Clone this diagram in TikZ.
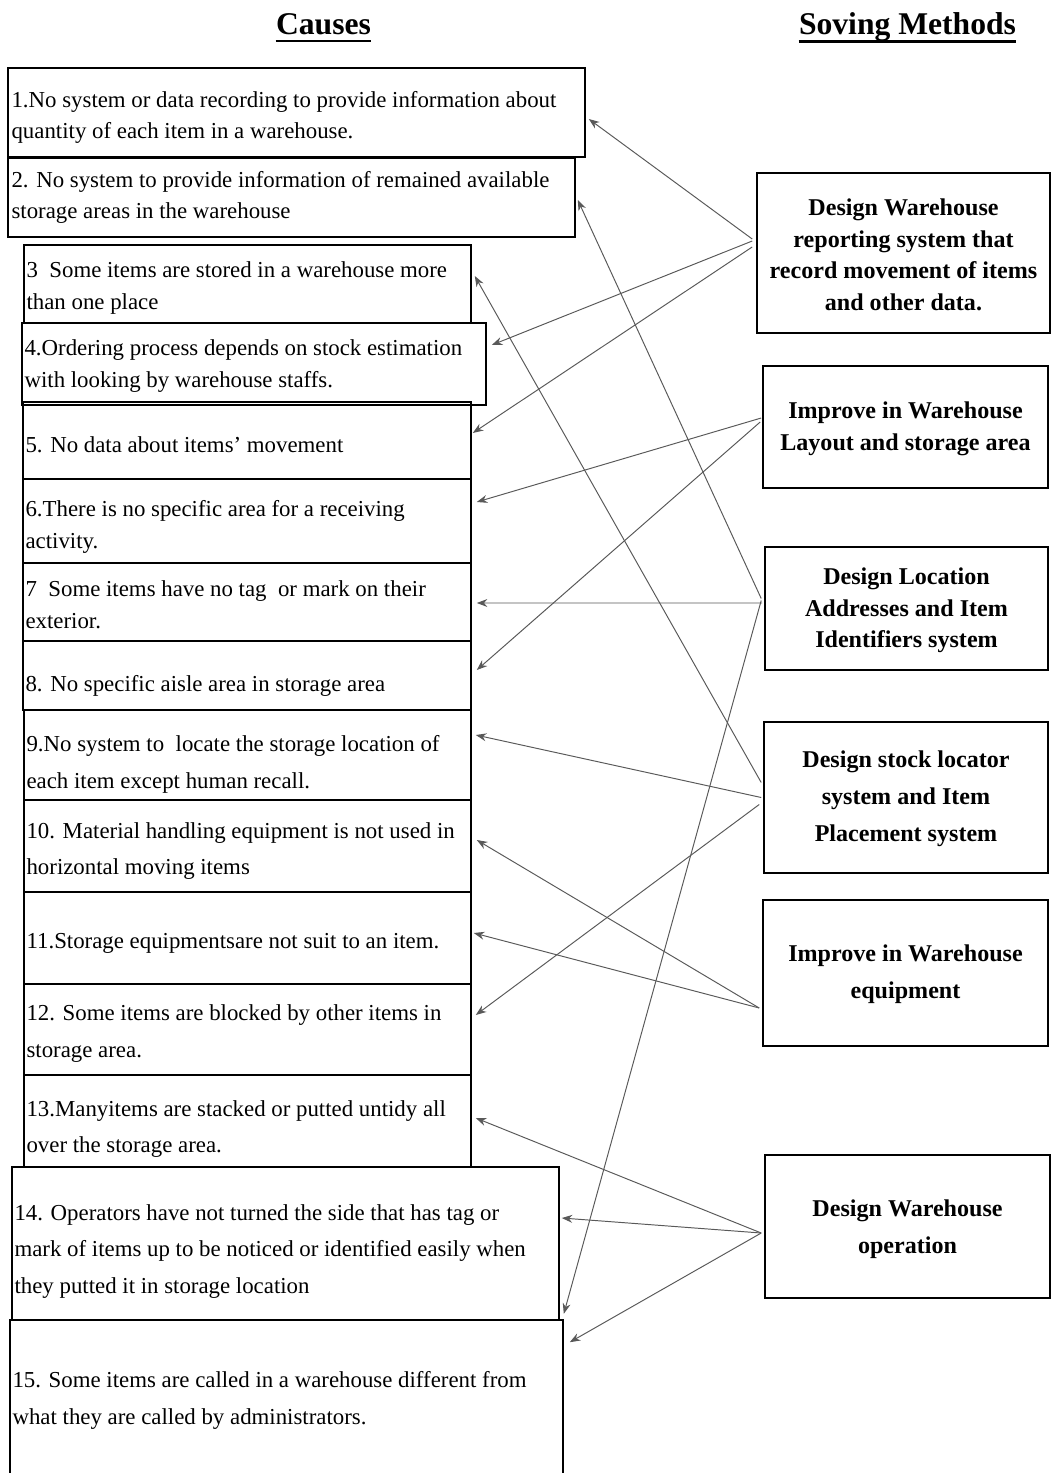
\documentclass[tikz,border=0pt]{standalone}
\usepackage{fontspec}
\setmainfont{Liberation Serif}
\usetikzlibrary{arrows.meta,calc,fit}
\begin{document}
\begin{tikzpicture}[x=0.02cm,y=-0.02cm,
  box/.style={draw=black,line width=0.9pt,inner sep=0pt},
  ltxt/.style={inner sep=0pt,anchor=west,align=left,font=\fontsize{13}{18}\selectfont},
  ltxtb/.style={inner sep=0pt,anchor=west,align=left,font=\fontsize{13}{21}\selectfont},
  rtxt/.style={inner sep=0pt,align=center,font=\bfseries\fontsize{13.7}{18}\selectfont},
  rtxtb/.style={inner sep=0pt,align=center,font=\bfseries\fontsize{13.7}{21}\selectfont},
  arr/.style={-{Stealth[length=6pt,width=4.5pt]},draw=black!65,line width=0.55pt},
  ttl/.style={inner sep=0pt,text depth=0pt,font=\bfseries\fontsize{18}{22}\selectfont}]
\fill[white] (0,0) rectangle (1051,1473);
\useasboundingbox (0,0) rectangle (1051,1473);

% titles
\node[ttl] (h1) at (323.5,24) {Causes};
\node[ttl] (h2) at (907.5,24) {Soving Methods};
\draw[line width=1.4pt] ($(h1.south west)+(0,6)$) -- ($(h1.south east)+(0,6)$);
\draw[line width=1.4pt] ($(h2.south west)+(0,6)$) -- ($(h2.south east)+(0,6)$);

% cause boxes
\node[box,fit={(8,68)(585,157)}] (c1) {};
\node[box,fit={(8,158)(575,237)}] (c2) {};
\node[box,fit={(24,245)(471,323)}] (c3) {};
\node[box,fit={(22,323)(486,405)}] (c4) {};
\node[box,fit={(23,402)(471,479)}] (c5) {};
\node[box,fit={(23,479)(471,563)}] (c6) {};
\node[box,fit={(23,563)(471,641)}] (c7) {};
\node[box,fit={(23,641)(471,710)}] (c8) {};
\node[box,fit={(24,710)(471,800)}] (c9) {};
\node[box,fit={(24,800)(471,892)}] (c10) {};
\node[box,fit={(24,892)(471,984)}] (c11) {};
\node[box,fit={(24,984)(471,1075)}] (c12) {};
\node[box,fit={(24,1075)(471,1167)}] (c13) {};
\node[box,fit={(12,1167)(559,1320)}] (c14) {};
\node[box,fit={(10,1320)(563,1480)}] (c15) {};

\node[ltxt] (t1) at ($(c1.west)+(4,5)$) {1.No system or data recording to provide information about\\quantity of each item in a warehouse.};
\node[ltxt] (t2) at ($(c2.west)+(4,0)$) {2. No system to provide information of remained available\\storage areas in the warehouse};
\node[ltxt] (t3) at ($(c3.west)+(3,4)$) {3~~Some items are stored in a warehouse more\\than one place};
\node[ltxt] (t4) at ($(c4.west)+(3,2)$) {4.Ordering process depends on stock estimation\\with looking by warehouse staffs.};
\node[ltxt] (t5) at ($(c5.west)+(3,4)$) {5. No data about items' movement};
\node[ltxt] (t6) at ($(c6.west)+(3,6)$) {6.There is no specific area for a receiving\\activity.};
\node[ltxt] (t7) at ($(c7.west)+(3,3)$) {7~~Some items have no tag~~or mark on their\\exterior.};
\node[ltxt] (t8) at ($(c8.west)+(3,10)$) {8. No specific aisle area in storage area};
\node[ltxtb] (t9) at ($(c9.west)+(3,9)$) {9.No system to~~locate the storage location of\\each item except human recall.};
\node[ltxtb] (t10) at ($(c10.west)+(3,5)$) {10. Material handling equipment is not used in\\horizontal moving items};
\node[ltxtb] (t11) at ($(c11.west)+(3,5)$) {11.Storage equipmentsare not suit to an item.};
\node[ltxtb] (t12) at ($(c12.west)+(3,4)$) {12. Some items are blocked by other items in\\storage area.};
\node[ltxtb] (t13) at ($(c13.west)+(3,8)$) {13.Manyitems are stacked or putted untidy all\\over the storage area.};
\node[ltxtb] (t14) at ($(c14.west)+(3,8)$) {14. Operators have not turned the side that has tag or\\mark of items up to be noticed or identified easily when\\they putted it in storage location};
\node[ltxtb] (t15) at ($(c15.north west)+(3,81)$) {15. Some items are called in a warehouse different from\\what they are called by administrators.};

% method boxes
\node[box,fit={(757,173)(1050,333)}] (r1) {};
\node[box,fit={(763,366)(1048,488)}] (r2) {};
\node[box,fit={(765,547)(1048,670)}] (r3) {};
\node[box,fit={(764,722)(1048,873)}] (r4) {};
\node[box,fit={(763,900)(1048,1046)}] (r5) {};
\node[box,fit={(765,1155)(1050,1298)}] (r6) {};

\node[rtxt] (s1) at ($(r1.center)+(0,2)$) {Design Warehouse\\reporting system that\\record movement of items\\and other data.};
\node[rtxt] (s2) at ($(r2.center)+(0,2)$) {Improve in Warehouse\\Layout and storage area};
\node[rtxt] (s3) at ($(r3.center)+(0,2)$) {Design Location\\Addresses and Item\\Identifiers system};
\node[rtxtb] (s4) at ($(r4.center)+(0,1)$) {Design stock locator\\system and Item\\Placement system};
\node[rtxtb] (s5) at ($(r5.center)+(0,1)$) {Improve in Warehouse\\equipment};
\node[rtxtb] (s6) at ($(r6.center)+(0,3)$) {Design Warehouse\\operation};

% connectors
\draw[arr] ($(r1.west)+(-4,-14)$) -- ($(c1.east)+(3,6.5)$);
\draw[arr] ($(r1.west)+(-4,-12)$) -- ($(c4.east)+(5,-19)$);
\draw[arr] ($(r1.west)+(-4,-6)$) -- ($(c5.east)+(1,-7.5)$);
\draw[arr] ($(r2.west)+(-1,-9)$) -- ($(c6.east)+(5,-19)$);
\draw[arr] ($(r2.west)+(-2,-5)$) -- ($(c8.east)+(5,-5.5)$);
\draw[arr] ($(r3.west)+(-2,-5.5)$) -- ($(c7.east)+(5,1)$);
\draw[arr] ($(r3.west)+(-3,-10)$) -- ($(c2.east)+(2,2.5)$);
\draw[arr] ($(r3.west)+(-3,-8)$) -- ($(c14.south east)+(4,-7)$);
\draw[arr] ($(r4.west)+(-2,-15)$) -- ($(c3.east)+(3,-8)$);
\draw[arr] ($(r4.west)+(-2,0)$) -- ($(c9.east)+(4,-20)$);
\draw[arr] ($(r4.west)+(-4,7)$) -- ($(c12.east)+(4,-14.5)$);
\draw[arr] ($(r5.west)+(-3,35)$) -- ($(c10.east)+(5,-6)$);
\draw[arr] ($(r5.west)+(-3,35)$) -- ($(c11.east)+(2,-5)$);
\draw[arr] ($(r6.west)+(-3,6.5)$) -- ($(c13.east)+(4,-3)$);
\draw[arr] ($(r6.west)+(-3,6.5)$) -- ($(c14.east)+(2,-25.5)$);
\draw[arr] ($(r6.west)+(-3,6.5)$) -- ($(c15.north east)+(6,23)$);
\end{tikzpicture}
\end{document}
